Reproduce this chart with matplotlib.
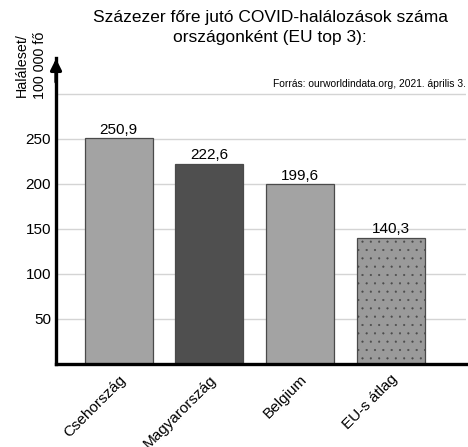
import matplotlib.pyplot as plt

plt.rcParams['font.family'] = ['Liberation Sans', 'DejaVu Sans']
plt.rcParams['hatch.color'] = '#7a7a7a'
plt.rcParams['hatch.linewidth'] = 0.3

# data
categories = ['Csehország', 'Magyarország', 'Belgium', 'EU-s átlag']
deaths = [250.9, 222.6, 199.6, 140.3]
labels = ['250,9', '222,6', '199,6', '140,3']
colors = ['#a3a3a3', '#4f4f4f', '#a3a3a3', '#9a9a9a']
yticks = [50, 100, 150, 200, 250]

fig = plt.figure(figsize=(4.68, 4.47), dpi=100)
ax = fig.add_axes([0.1197, 0.1857, 0.876, 0.685])

ax.set_axisbelow(True)
for g in yticks + [300]:
    ax.axhline(g, color='#d4d4d4', lw=1, zorder=0)

x = range(len(categories))
bars = ax.bar(x, deaths, width=0.75, color=colors, edgecolor='#4a4a4a', lw=0.9, zorder=2)
# dotted pattern on the EU average
bars[3].set_hatch('..')

for b, lab in zip(bars, labels):
    ax.text(b.get_x() + b.get_width() / 2, b.get_height() + 1.5, lab,
            ha='center', va='bottom', fontsize=11)

ax.set_xlim(-0.69, 3.83)
ax.set_ylim(0, 340)
ax.set_yticks(yticks)
ax.set_xticks(list(x))
ax.set_xticklabels(categories, rotation=45, ha='right', va='top',
                   rotation_mode='anchor', fontsize=11.3)
ax.tick_params(length=0, labelsize=11)
ax.tick_params(axis='x', pad=6)

for s in ['top', 'right']:
    ax.spines[s].set_visible(False)
ax.spines['left'].set_linewidth(2.4)
ax.spines['bottom'].set_linewidth(2.4)

# arrow head on the y axis
ax.annotate('', xy=(-0.69, 342), xytext=(-0.69, 310),
            arrowprops=dict(arrowstyle='-|>', color='black', lw=2.4,
                            mutation_scale=16), annotation_clip=False)

fig.text(0.577, 0.977, 'Százezer főre jutó COVID-halálozások száma\nországonként (EU top 3):',
         ha='center', va='top', fontsize=12.5, linespacing=1.4)
fig.text(0.066, 0.93, 'Haláleset/\n100 000 fő', rotation=90, ha='center', va='top',
         fontsize=10.3, linespacing=1.3)
fig.text(0.995, 0.8, 'Forrás: ourworldindata.org, 2021. április 3.', ha='right',
         va='bottom', fontsize=7.4)

fig.savefig('out.png', dpi=100)
